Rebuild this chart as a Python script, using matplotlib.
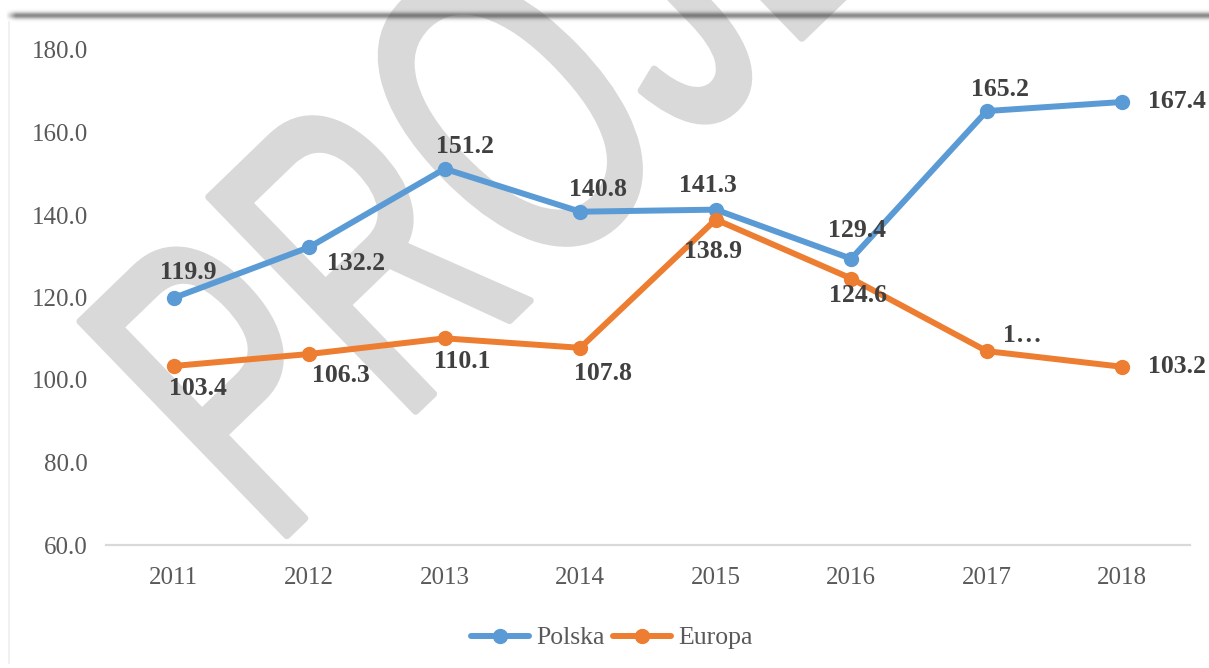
import matplotlib
matplotlib.use("Agg")
import matplotlib.pyplot as plt
import numpy as np
from matplotlib.textpath import TextPath
from matplotlib.patches import PathPatch
from matplotlib.lines import Line2D
from matplotlib.font_manager import FontProperties
from matplotlib.transforms import Affine2D

# data
years = ["2011", "2012", "2013", "2014", "2015", "2016", "2017", "2018"]
polska = [119.9, 132.2, 151.2, 140.8, 141.3, 129.4, 165.2, 167.4]
europa = [103.4, 106.3, 110.1, 107.8, 138.9, 124.6, 107.0, 103.2]
europa_labels = ["103.4", "106.3", "110.1", "107.8", "138.9", "124.6", "1…", "103.2"]
yticks = [60, 80, 100, 120, 140, 160, 180]

BLUE = "#5b9bd5"
ORANGE = "#ed7d31"
W, H = 1209, 668

plt.rcParams["font.family"] = ["Liberation Serif", "DejaVu Serif"]

fig = plt.figure(figsize=(W / 100, H / 100), dpi=100)
fig.patch.set_facecolor("white")

# faint frame line on the left
fig.add_artist(Line2D([8.5 / W, 8.5 / W], [5 / H, (H - 22) / H], transform=fig.transFigure,
                      color="#eeeeee", lw=1.2, zorder=-4))

# watermark
em = 433.0
tp = TextPath((0, 0), "PROJEKT", size=1.0, prop=FontProperties(family="Liberation Sans"))
wm_tf = Affine2D().scale(0.62 * em, em).rotate_deg(44).translate(271, H - 551)
wm = PathPatch(wm_tf.transform_path(tp), transform=None, facecolor="#d9d9d9",
               edgecolor="#d9d9d9", lw=5, joinstyle="round", zorder=-3)
fig.add_artist(wm)

# shadowed rule along the top
bar_ax = fig.add_axes([5 / W, (H - 26) / H, 1 - 5 / W, 20 / H], zorder=-2)
bar_ax.axis("off")
yy = np.linspace(-10, 10, 40)
xx = np.linspace(0, W - 5, 600)
alpha_v = 0.62 * np.exp(-(yy + 0.5) ** 2 / (2 * 2.4 ** 2))
alpha_h = np.clip(xx / 10.0, 0, 1)
rgba = np.zeros((len(yy), len(xx), 4))
rgba[..., :3] = 0.25
rgba[..., 3] = alpha_v[:, None] * alpha_h[None, :]
bar_ax.imshow(rgba, aspect="auto", extent=(0, 1, 0, 1), interpolation="bilinear")
bar_ax.set_xlim(0, 1)
bar_ax.set_ylim(0, 1)

ax = fig.add_axes([106 / W, (H - 545) / H, (1190 - 106) / W, (545 - 50) / H])
ax.set_facecolor("none")

x = np.arange(len(years))
ax.plot(x, polska, color=BLUE, lw=4.3, marker="o", ms=10, solid_capstyle="round",
        label="Polska", zorder=3)
ax.plot(x, europa, color=ORANGE, lw=4.3, marker="o", ms=10, solid_capstyle="round",
        label="Europa", zorder=3)

# label offsets in pixels (dx, dy)
pl_off = [(14, 25), (47, -16), (20, 22), (18, 22), (-8, 24), (6, 28), (13, 22), (55, 0)]
eu_off = [(24, -23), (32, -21), (18, -23), (23, -26), (-3, -32), (7, -17), (36, 16), (55, 0)]

lab_kw = dict(textcoords="offset pixels", ha="center", va="center", fontsize=18.5,
              fontweight="bold", color="#404040", annotation_clip=False, zorder=4)
for i, v in enumerate(polska):
    ax.annotate(f"{v:.1f}", (x[i], v), xytext=pl_off[i], **lab_kw)
for i, v in enumerate(europa):
    ax.annotate(europa_labels[i], (x[i], v), xytext=eu_off[i], **lab_kw)

ax.set_xlim(-0.5, len(years) - 0.5)
ax.set_ylim(60, 180)
ax.set_yticks(yticks)
ax.set_yticklabels([f"{t:.1f}" for t in yticks])
ax.set_xticks(x)
ax.set_xticklabels(years)
ax.tick_params(axis="both", length=0, labelsize=18, labelcolor="#595959")
ax.tick_params(axis="y", pad=13)
ax.tick_params(axis="x", pad=16)
for side in ["top", "right", "left"]:
    ax.spines[side].set_visible(False)
ax.spines["bottom"].set_color("#d9d9d9")
ax.spines["bottom"].set_linewidth(1.6)

leg = fig.legend(loc="center", bbox_to_anchor=(612 / W, (H - 638) / H), ncol=2,
                 frameon=False, fontsize=18.5, handlelength=2.25, handletextpad=0.3,
                 columnspacing=0.3, borderaxespad=0)
for t in leg.get_texts():
    t.set_color("#595959")

fig.savefig("out.png", dpi=100, facecolor="white")
